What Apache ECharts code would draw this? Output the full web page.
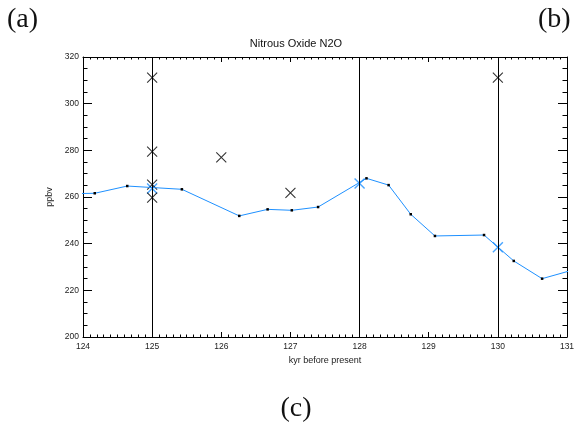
<!DOCTYPE html>
<html>
<head>
<meta charset="utf-8">
<script src="https://cdn.jsdelivr.net/npm/echarts@6/dist/echarts.min.js"></script>
<style>html,body{margin:0;padding:0;background:#fff}#c{width:582px;height:423px}</style>
</head>
<body>
<div id="c"></div>
<script>
// Blue record (kyr before present, ppbv)
const lineKyr  = [123.8, 124.17, 124.64, 125.43, 126.26, 126.67, 127.02, 127.40, 128.10, 128.42, 128.74, 129.09, 129.80, 130.23, 130.64, 131.25];
const linePpbv = [261.4, 261.6, 264.7, 263.3, 251.9, 254.7, 254.3, 255.7, 268.0, 265.1, 252.6, 243.3, 243.7, 232.6, 225.0, 230.1];
// Blue crosses on the line
const blueKyr  = [125, 128, 130];
const bluePpbv = [263.6, 265.8, 238.5];
// Black crosses
const blackKyr  = [125, 125, 125, 125, 126, 127, 130];
const blackPpbv = [311.2, 279.4, 265.3, 259.7, 277.0, 261.8, 311.2];
// Vertical reference lines
const vLines = [125, 128, 130];
const xTicks = [124, 125, 126, 127, 128, 129, 130, 131];
const yTicks = [200, 220, 240, 260, 280, 300, 320];

const cross = 'path://M0,0L10,10M10,0L0,10';
const zip = (a, b) => a.map((v, i) => [v, b[i]]);

const chart = echarts.init(document.getElementById('c'));
const axisCommonX = {
  type: 'value', min: xTicks[0], max: xTicks[xTicks.length - 1], interval: 1,
  axisLine: {show: true, lineStyle: {color: '#000', width: 1}},
  axisTick: {show: true, inside: true, length: 5, lineStyle: {color: '#000'}},
  minorTick: {show: true, splitNumber: 10, length: 2.5, lineStyle: {color: '#000'}},
  splitLine: {show: false}
};
const axisCommonY = {
  type: 'value', min: yTicks[0], max: yTicks[yTicks.length - 1], interval: 20,
  axisLine: {show: true, lineStyle: {color: '#000', width: 1}},
  axisTick: {show: true, inside: true, length: 9, lineStyle: {color: '#000'}},
  minorTick: {show: true, splitNumber: 4, length: 4.5, lineStyle: {color: '#000'}},
  splitLine: {show: false}
};
function label(text, x, y, font, align) {
  return {type: 'text', x: x, y: y, silent: true,
    style: {text: text, font: font, fill: '#111', textAlign: align, textVerticalAlign: 'top', verticalAlign: 'top'}};
}
chart.setOption({
  animation: false,
  graphic: [
    label('Nitrous Oxide N2O', 296, 38, '11px "Liberation Sans"', 'center'),
    label('(a)', 7, 6, '28px "Liberation Serif"', 'left'),
    label('(b)', 538, 6, '28px "Liberation Serif"', 'left'),
    label('(c)', 296, 395, '28px "Liberation Serif"', 'center')
  ],
  grid: {left: 83, right: 15, top: 57, bottom: 86},
  xAxis: [
    Object.assign({}, axisCommonX, {
      position: 'bottom',
      name: 'kyr before present', nameLocation: 'middle', nameGap: 15,
      nameTextStyle: {fontFamily: 'Liberation Sans', fontSize: 9, color: '#222'},
      axisLabel: {fontFamily: 'Liberation Sans', fontSize: 8.5, color: '#222', margin: 5}
    }),
    Object.assign({}, axisCommonX, {position: 'top', axisLabel: {show: false}})
  ],
  yAxis: [
    Object.assign({}, axisCommonY, {
      position: 'left',
      name: 'ppbv', nameLocation: 'middle', nameGap: 23,
      nameTextStyle: {fontFamily: 'Liberation Sans', fontSize: 9, color: '#222'},
      axisLabel: {fontFamily: 'Liberation Sans', fontSize: 8.5, color: '#222', margin: 4}
    }),
    Object.assign({}, axisCommonY, {position: 'right', axisLabel: {show: false}})
  ],
  series: [
    {
      type: 'line', xAxisIndex: 0, yAxisIndex: 0, data: [], silent: true,
      markLine: {
        symbol: ['none', 'none'], silent: true, label: {show: false},
        lineStyle: {color: '#000', width: 1, type: 'solid'},
        data: vLines.map(v => ({xAxis: v}))
      }
    },
    {
      type: 'line', data: zip(lineKyr, linePpbv), clip: true,
      lineStyle: {color: '#1e90ff', width: 1},
      symbol: 'rect', symbolSize: 2.5, showSymbol: true,
      itemStyle: {color: '#000'}
    },
    {
      type: 'scatter', data: zip(blueKyr, bluePpbv), symbol: cross, symbolSize: 10,
      itemStyle: {color: 'transparent', borderColor: '#1e90ff', borderWidth: 1.4}
    },
    {
      type: 'scatter', data: zip(blackKyr, blackPpbv), symbol: cross, symbolSize: 10,
      itemStyle: {color: 'transparent', borderColor: '#000', borderWidth: 1.1}
    }
  ]
});
</script>
</body>
</html>
